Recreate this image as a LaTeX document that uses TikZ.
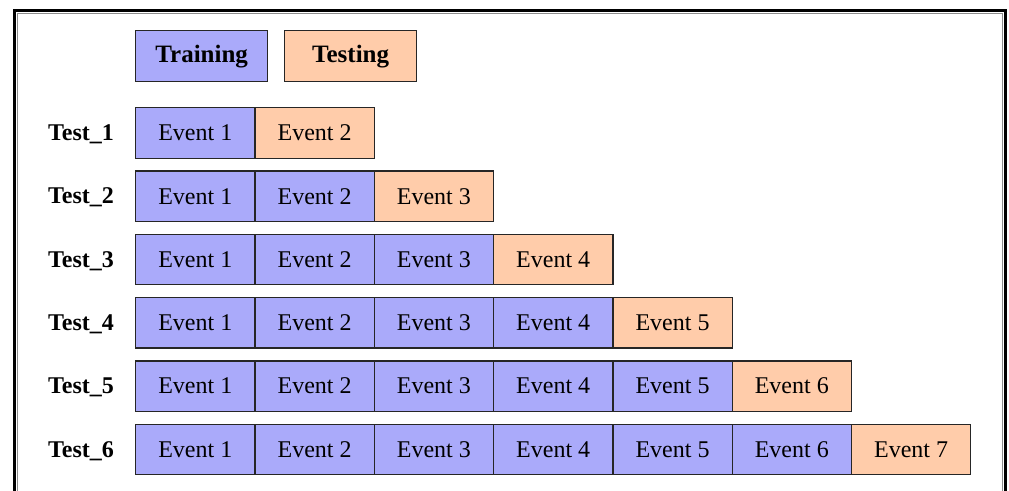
\documentclass[tikz,border=0pt]{standalone}
\usepackage{fontspec}
\setmainfont{Liberation Serif}
\definecolor{trainc}{RGB}{170,170,250}
\definecolor{testc}{RGB}{255,204,170}
\begin{document}
\begin{tikzpicture}[x=1pt,y=-1pt,
  cell/.style={draw=black!85,line width=1.3pt,minimum width=119.3pt,minimum height=50.5pt,inner sep=0pt,anchor=north west,font=\fontsize{24}{28}\selectfont},
  train/.style={cell,fill=trainc},
  test/.style={cell,fill=testc},
  legend/.style={draw=black!85,line width=1.3pt,minimum width=132pt,minimum height=51pt,inner sep=0pt,anchor=north west,font=\fontsize{25}{28}\selectfont\bfseries},
  rowlabel/.style={font=\fontsize{24}{28}\selectfont\bfseries,anchor=base,inner sep=0pt}]
\useasboundingbox (0,0) rectangle (1009,490);
% frame
\draw[black!45,line width=1pt] (17,13) -- (1002,13) -- (1002,500);
\draw[black!45,line width=1pt] (17,500) -- (17,13);
\draw[black,line width=3pt] (14,520) -- (14,10) -- (1005,10) -- (1005,520);
% legend
\node[legend,fill=trainc] (train) at (135,30) {Training};
\node[legend,fill=testc] (testl) at (284,30) {Testing};
% rows
\foreach \r in {1,...,6}{
  \pgfmathsetmacro{\yy}{107+63.3*(\r-1)}
  \node[rowlabel] (lab\r) at (81,\yy+33.5) {Test\_\r};
  \foreach \c in {1,...,\r}{
    \node[train] (e\r-\c) at ({135+119.3*(\c-1)},\yy) {Event \c};
  }
  \pgfmathtruncatemacro{\nn}{\r+1}
  \node[test] (e\r-\nn) at ({135+119.3*\r},\yy) {Event \nn};
}
\end{tikzpicture}
\end{document}
